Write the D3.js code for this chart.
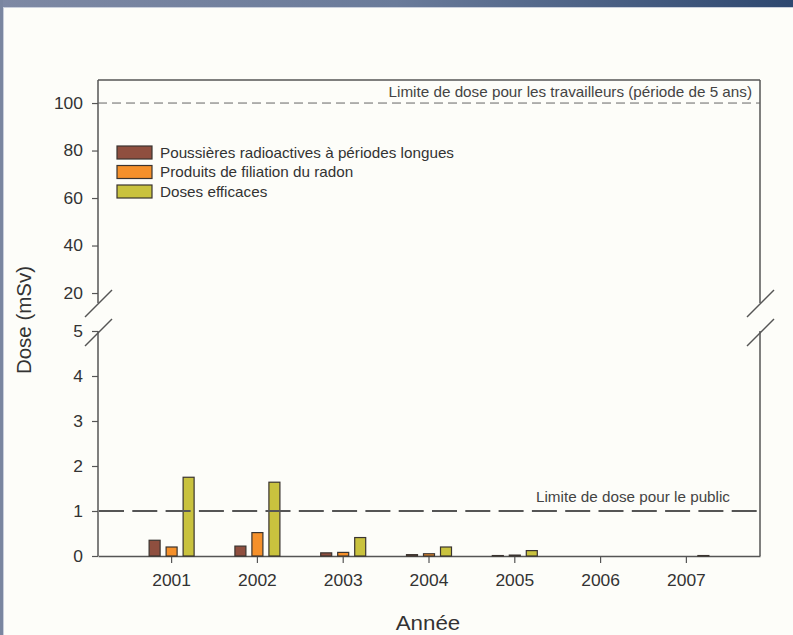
<!DOCTYPE html>
<html><head><meta charset="utf-8">
<script src="https://cdn.jsdelivr.net/npm/d3@7"></script>
<style>html,body{margin:0;padding:0;background:#fdfdf9;}svg{display:block;font-family:Arial,"Liberation Sans",sans-serif;}</style>
</head><body>
<svg id="chart" width="793" height="635"></svg>
<script>
const years = [2001, 2002, 2003, 2004, 2005, 2006, 2007];
const seriesNames = ["Poussières radioactives à périodes longues", "Produits de filiation du radon", "Doses efficaces"];
const poussieres = [0.35, 0.22, 0.07, 0.03, 0.01, 0, 0];
const radon = [0.20, 0.52, 0.08, 0.05, 0.02, 0, 0];
const dosesEfficaces = [1.75, 1.64, 0.41, 0.20, 0.12, 0, 0.01];
const seriesColors = ["#8f4f3f", "#f5902a", "#c9c23e"];
const upperTicks = [20, 40, 60, 80, 100];
const lowerTicks = [0, 1, 2, 3, 4, 5];
const workerLimit = 100;
const publicLimit = 1;
const workerLabel = "Limite de dose pour les travailleurs (période de 5 ans)";
const publicLabel = "Limite de dose pour le public";

const SX = 1.09; // horizontal stretch of the original picture's text
const svg = d3.select("#chart");
// slide frame
const defs = svg.append("defs");
const grad = defs.append("linearGradient").attr("id", "topg").attr("x1", "0").attr("x2", "1");
grad.append("stop").attr("offset", "0").attr("stop-color", "#7e89a4");
grad.append("stop").attr("offset", "0.5").attr("stop-color", "#6a7b9a");
grad.append("stop").attr("offset", "1").attr("stop-color", "#2e4870");
svg.append("rect").attr("x", 0).attr("y", 0).attr("width", 793).attr("height", 7).attr("fill", "url(#topg)");
svg.append("rect").attr("x", 0).attr("y", 7).attr("width", 793).attr("height", 1).attr("fill", "#c9cfdb");
svg.append("rect").attr("x", 0).attr("y", 0).attr("width", 3).attr("height", 635).attr("fill", "#7a86a0");
svg.append("rect").attr("x", 3).attr("y", 8).attr("width", 1).attr("height", 627).attr("fill", "#c9cfdb");

const L = 98, R = 760, T = 80, B = 556;
const upperBottom = 303, lowerTop = 331;
const x = d3.scaleBand().domain(years).range([L, R]).paddingInner(0).paddingOuter(0.358);
const yU = d3.scaleLinear().domain([15.8, 109.7]).range([upperBottom, T]);
const yL = d3.scaleLinear().domain([0, 5]).range([B, lowerTop]);

const axisColor = "#555";
const g = svg.append("g");

function label(parent, px, py, txt, size, anchor) {
  return parent.append("text").attr("transform", `translate(${px},${py}) scale(${SX},1)`)
    .attr("text-anchor", anchor || "start").attr("font-size", size).attr("fill", "#333").text(txt);
}

// frame lines
g.append("line").attr("x1", L).attr("x2", R).attr("y1", T).attr("y2", T).attr("stroke", axisColor).attr("stroke-width", 1.5);
[L, R].forEach(xx => {
  g.append("line").attr("x1", xx).attr("x2", xx).attr("y1", T).attr("y2", upperBottom).attr("stroke", axisColor).attr("stroke-width", 1.5);
  g.append("line").attr("x1", xx).attr("x2", xx).attr("y1", lowerTop).attr("y2", B).attr("stroke", axisColor).attr("stroke-width", 1.5);
  [upperBottom, lowerTop + 1].forEach(yy => {
    g.append("line").attr("x1", xx - 13).attr("y1", yy + 14).attr("x2", xx + 14).attr("y2", yy - 13)
      .attr("stroke", axisColor).attr("stroke-width", 1.5);
  });
});

// y axes
const axU = d3.axisLeft(yU).tickValues(upperTicks).tickFormat(d3.format("d")).tickSize(6).tickPadding(0);
const axL = d3.axisLeft(yL).tickValues(lowerTicks).tickFormat(d3.format("d")).tickSize(6).tickPadding(0);
[axU, axL].forEach(axis => {
  const a = g.append("g").attr("transform", `translate(${L},0)`).call(axis);
  a.select(".domain").remove();
  a.selectAll("line").attr("stroke", axisColor).attr("stroke-width", 1.2);
  a.selectAll("text").attr("x", null).attr("font-size", 16).attr("fill", "#333")
    .attr("transform", `translate(-15,0) scale(${SX},1)`);
});

// x axis
const ax = g.append("g").attr("transform", `translate(0,${B})`).call(d3.axisBottom(x).tickSize(7).tickPadding(12).tickSizeOuter(0));
ax.select(".domain").attr("stroke", axisColor).attr("stroke-width", 1.5);
ax.selectAll("line").attr("stroke", axisColor).attr("stroke-width", 1.2);
ax.selectAll("text").attr("font-size", 16).attr("fill", "#333").attr("transform", `scale(${SX},1)`);

// limit lines
g.append("line").attr("x1", L).attr("x2", R).attr("y1", yU(workerLimit)).attr("y2", yU(workerLimit))
  .attr("stroke", "#666").attr("stroke-width", 1).attr("stroke-dasharray", "9,5");
label(g, R - 8, yU(workerLimit) - 6, workerLabel, 14, "end").attr("fill", "#444");

// bars
const allSeries = [poussieres, radon, dosesEfficaces];
const barW = 11, barStep = 17;
allSeries.forEach((vals, si) => {
  g.append("g").selectAll("rect").data(years).join("rect")
    .attr("x", (d) => x(d) + x.bandwidth() / 2 + (si - 1) * barStep - barW / 2)
    .attr("width", barW)
    .attr("y", (d, i) => yL(vals[i]))
    .attr("height", (d, i) => B - yL(vals[i]))
    .attr("fill", seriesColors[si])
    .attr("stroke", "#3a3430").attr("stroke-width", 1.2);
});

g.append("line").attr("x1", L).attr("x2", R).attr("y1", yL(publicLimit)).attr("y2", yL(publicLimit))
  .attr("stroke", "#555").attr("stroke-width", 2.2).attr("stroke-dasharray", "25,8.3").attr("stroke-dashoffset", -1);
label(g, R - 30, yL(publicLimit) - 9, publicLabel, 14, "end").attr("fill", "#444");

// legend
const lg = g.append("g").attr("transform", "translate(117,146)");
seriesNames.forEach((n, i) => {
  lg.append("rect").attr("x", 0).attr("y", i * 19.5).attr("width", 35).attr("height", 13)
    .attr("fill", seriesColors[i]).attr("stroke", "#3a3430").attr("stroke-width", 1.2);
  label(lg, 43, i * 19.5 + 11.5, n, 14);
});

// axis titles
svg.append("text").attr("transform", "translate(31,320) rotate(-90)").attr("text-anchor", "middle")
  .attr("font-size", 20.5).attr("fill", "#333").text("Dose (mSv)");
label(svg, 428, 630, "Année", 20.5, "middle");
</script>
</body></html>
